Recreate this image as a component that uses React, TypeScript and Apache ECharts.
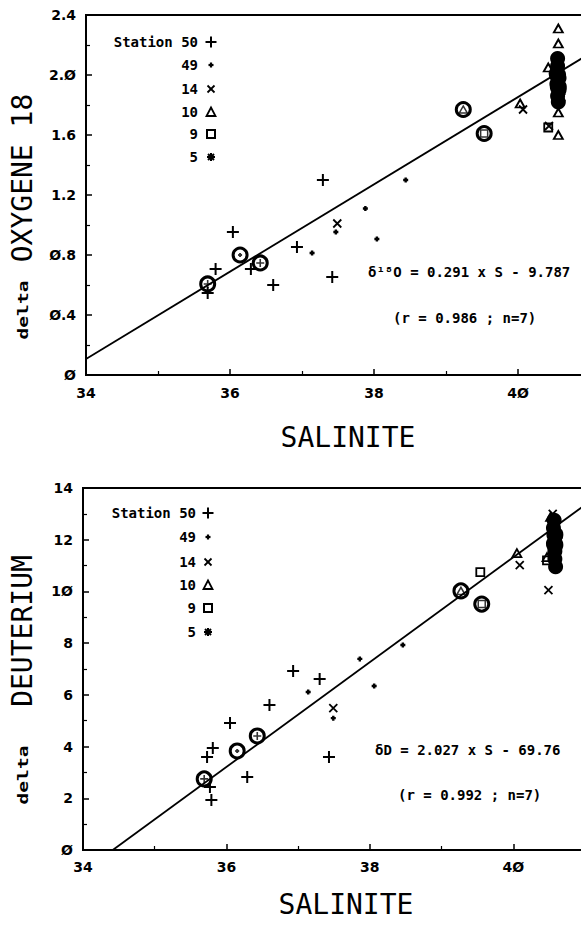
import React, { useEffect, useRef } from 'react';
import * as echarts from 'echarts';

// ---------- shared ----------
const stationIds = ['50', '49', '14', '10', '9', '5'];
const stationLabels = ['Station 50', '49', '14', '10', '9', '5'];
const xTickLabels = ['34', '36', '38', '4Ø'];

// ---------- top panel : delta oxygene 18 ----------
const o18YTicks = ['Ø', 'Ø.4', 'Ø.8', '1.2', '1.6', '2.Ø', '2.4'];
const o18St50 = [[35.69, 0.547], [35.8, 0.707], [36.04, 0.953], [36.29, 0.707], [36.6, 0.6], [36.93, 0.853], [37.29, 1.3], [37.42, 0.653]];
const o18St49 = [[37.14, 0.813], [37.47, 0.953], [37.88, 1.11], [38.04, 0.907], [38.44, 1.3]];
const o18St14 = [[37.49, 1.01], [40.07, 1.77], [40.43, 1.66], [40.6, 1.85]];
const o18St10 = [[40.03, 1.81], [40.42, 2.05], [40.56, 2.21], [40.56, 2.31], [40.56, 1.75], [40.56, 1.6]];
const o18St9 = [[40.42, 1.65]];
const o18St5 = [[40.55, 2.11], [40.55, 2.06], [40.53, 2.01], [40.57, 1.98], [40.54, 1.94], [40.57, 1.9], [40.55, 1.86], [40.56, 1.82]];
const o18MeanSal = [35.69, 36.14, 36.42, 39.24, 39.53, 40.55, 40.56];
const o18MeanVal = [0.607, 0.8, 0.747, 1.77, 1.61, 2.0, 1.92];
const o18MeanSt = ['50', '49', '50', '10', '9', '5', '5'];
const o18Slope = 0.291;
const o18Intercept = -9.787;
const o18Eq = 'δ¹⁸O = 0.291 x S - 9.787';
const o18R = '(r = 0.986 ; n=7)';

// ---------- bottom panel : delta deuterium ----------
const dYTicks = ['Ø', '2', '4', '6', '8', '1Ø', '12', '14'];
const dSt50 = [[35.73, 3.6], [35.81, 3.94], [35.79, 1.93], [35.77, 2.44], [36.05, 4.91], [36.29, 2.82], [36.6, 5.61], [36.93, 6.92], [37.3, 6.61], [37.43, 3.6]];
const dSt49 = [[37.14, 6.11], [37.49, 5.1], [38.06, 6.34], [37.86, 7.39], [38.46, 7.93]];
const dSt14 = [[37.49, 5.49], [40.09, 11.02], [40.49, 10.05], [40.55, 13.0]];
const dSt10 = [[40.05, 11.48], [40.47, 11.33], [40.52, 12.88]];
const dSt9 = [[39.54, 10.75], [40.47, 11.2]];
const dSt5 = [[40.57, 12.75], [40.56, 12.45], [40.59, 12.15], [40.56, 11.85], [40.58, 11.55], [40.58, 11.25], [40.59, 10.95]];
const dMeanSal = [35.69, 36.15, 36.43, 39.27, 39.56, 40.58, 40.58];
const dMeanVal = [2.75, 3.83, 4.41, 10.02, 9.51, 12.2, 11.8];
const dMeanSt = ['50', '49', '50', '10', '9', '5', '5'];
const dSlope = 2.027;
const dIntercept = -69.76;
const dEq = 'δD = 2.027 x S - 69.76';
const dR = '(r = 0.992 ; n=7)';

const PLUS = 'path://M0,5L10,5M5,0L5,10';
const CROSS = 'path://M0,0L10,10M10,0L0,10';
const TRI = 'path://M5,0L10,9L0,9Z';
const SQR = 'path://M0,0L10,0L10,10L0,10Z';

const symStyle: Record<string, any> = {
  '50': { symbol: PLUS, size: 12, width: 2, fill: false },
  '49': { symbol: PLUS, size: 5, width: 2.4, fill: false },
  '14': { symbol: CROSS, size: 8, width: 1.8, fill: false },
  '10': { symbol: TRI, size: [9, 8], width: 1.8, fill: false },
  '9': { symbol: SQR, size: 8, width: 1.8, fill: false },
  '5': { symbol: 'circle', size: 15, width: 0, fill: true },
};
const innerStyle: Record<string, any> = {
  '50': { symbol: PLUS, size: 8, width: 1.6, fill: false },
  '49': { symbol: PLUS, size: 4, width: 2, fill: false },
  '14': { symbol: CROSS, size: 6, width: 1.5, fill: false },
  '10': { symbol: TRI, size: [8, 7], width: 1.5, fill: false },
  '9': { symbol: SQR, size: 7, width: 1.5, fill: false },
  '5': { symbol: 'circle', size: 10, width: 0, fill: true },
};

const LABEL_FONT = { color: '#000', fontFamily: 'DejaVu Sans', fontWeight: 'bold' as const, fontSize: 14 };

function panelAxes(gi: number, yMax: number, yInt: number, yLabels: string[], lblMargin: number) {
  const xAxis = {
    type: 'value', gridIndex: gi, min: 34, max: 41, interval: 2,
    axisLine: { show: true, onZero: false, lineStyle: { color: '#000', width: 2 } },
    axisTick: { show: true, inside: true, length: 6, lineStyle: { color: '#000', width: 1.5 } },
    minorTick: { show: true, splitNumber: 2, length: 4, lineStyle: { color: '#000', width: 1.2 } },
    splitLine: { show: false },
    minorSplitLine: { show: false },
    axisLabel: {
      ...LABEL_FONT, margin: lblMargin,
      formatter: (v: number) => {
        const i = (v - 34) / 2;
        return Number.isInteger(i) && xTickLabels[i] ? xTickLabels[i] : '';
      },
    },
  };
  const yAxis = {
    type: 'value', gridIndex: gi, min: 0, max: yMax, interval: yInt,
    axisLine: { show: true, onZero: false, lineStyle: { color: '#000', width: 2 } },
    axisTick: { show: true, inside: true, length: 6, lineStyle: { color: '#000', width: 1.5 } },
    minorTick: { show: true, splitNumber: 2, length: 4, lineStyle: { color: '#000', width: 1.2 } },
    splitLine: { show: false },
    minorSplitLine: { show: false },
    axisLabel: {
      ...LABEL_FONT, margin: 10,
      formatter: (v: number) => yLabels[Math.round(v / yInt)] ?? '',
    },
  };
  return { xAxis, yAxis };
}

function panelSeries(gi: number, stations: number[][][], meanSal: number[], meanVal: number[], meanSt: string[], slope: number, intercept: number) {
  const series: any[] = [];
  const x0 = Math.max(34, -intercept / slope);
  series.push({
    type: 'line', xAxisIndex: gi, yAxisIndex: gi, silent: true, symbol: 'none', z: 2,
    data: [[x0, slope * x0 + intercept], [41, slope * 41 + intercept]],
    lineStyle: { color: '#000', width: 1.8 },
  });
  stations.forEach((pts, k) => {
    const s = symStyle[stationIds[k]];
    series.push({
      type: 'scatter', xAxisIndex: gi, yAxisIndex: gi, silent: true, z: 3,
      name: stationLabels[k], data: pts, symbol: s.symbol, symbolSize: s.size,
      itemStyle: { color: s.fill ? '#000' : 'rgba(0,0,0,0)', borderColor: '#000', borderWidth: s.width, opacity: 1 },
    });
  });
  series.push({
    type: 'scatter', xAxisIndex: gi, yAxisIndex: gi, silent: true, z: 4,
    symbol: 'circle', symbolSize: 14,
    data: meanSal.map((x, i) => ({
      value: [x, meanVal[i]],
      itemStyle: { color: meanSt[i] === '5' ? '#000' : 'rgba(0,0,0,0)' },
    })),
    itemStyle: { borderColor: '#000', borderWidth: 3, opacity: 1 },
  });
  series.push({
    type: 'scatter', xAxisIndex: gi, yAxisIndex: gi, silent: true, z: 5,
    data: meanSal.map((x, i) => {
      const s = innerStyle[meanSt[i]];
      return {
        value: [x, meanVal[i]], symbol: s.symbol, symbolSize: s.size,
        itemStyle: { color: s.fill ? '#000' : 'rgba(0,0,0,0)', borderColor: '#000', borderWidth: s.width },
      };
    }),
  });
  return series;
}

function legendSymbol(st: string, cx: number, cy: number): any[] {
  const ln = (x1: number, y1: number, x2: number, y2: number, w: number) => ({
    type: 'line', shape: { x1, y1, x2, y2 }, style: { stroke: '#000', lineWidth: w }, silent: true,
  });
  switch (st) {
    case '50': return [ln(cx - 5.5, cy, cx + 5.5, cy, 2), ln(cx, cy - 5.5, cx, cy + 5.5, 2)];
    case '49': return [ln(cx - 2.5, cy, cx + 2.5, cy, 2.2), ln(cx, cy - 2.5, cx, cy + 2.5, 2.2)];
    case '14': return [ln(cx - 3.5, cy - 3.5, cx + 3.5, cy + 3.5, 1.8), ln(cx - 3.5, cy + 3.5, cx + 3.5, cy - 3.5, 1.8)];
    case '10': return [{ type: 'polygon', shape: { points: [[cx, cy - 4.5], [cx + 4.5, cy + 4], [cx - 4.5, cy + 4]] }, style: { fill: 'none', stroke: '#000', lineWidth: 1.8 }, silent: true }];
    case '9': return [{ type: 'rect', shape: { x: cx - 4, y: cy - 4, width: 8, height: 8 }, style: { fill: 'none', stroke: '#000', lineWidth: 2 }, silent: true }];
    default: return [ln(cx - 4, cy, cx + 4, cy, 2), ln(cx, cy - 4, cx, cy + 4, 2), ln(cx - 3, cy - 3, cx + 3, cy + 3, 2), ln(cx - 3, cy + 3, cx + 3, cy - 3, 2)];
  }
}

function txt(text: string, x: number, y: number, opts: any = {}) {
  return {
    type: 'text', x, y, silent: true,
    rotation: opts.rotation || 0, scaleX: opts.scaleX || 1, scaleY: 1,
    style: {
      text, fill: '#000',
      fontFamily: opts.family || 'DejaVu Sans Mono',
      fontSize: opts.size || 14,
      fontWeight: opts.weight || 'bold',
      align: opts.align || 'left', textAlign: opts.align || 'left',
      verticalAlign: 'middle', textVerticalAlign: 'middle',
    },
  };
}

export default function App() {
  const ref = useRef<HTMLDivElement>(null);
  useEffect(() => {
    if (!ref.current) return;
    const chart = echarts.init(ref.current, undefined, { renderer: 'svg' });
    const top = panelAxes(0, 2.4, 0.4, o18YTicks, 11);
    const bot = panelAxes(1, 14, 2, dYTicks, 10);

    const graphic: any[] = [];
    const legTopY = [42, 65, 89, 112, 134, 157];
    const legBotY = [513, 537, 562, 585, 608, 632];
    stationIds.forEach((st, i) => {
      graphic.push(txt(stationLabels[i], 198, legTopY[i], { align: 'right' }));
      graphic.push(...legendSymbol(st, 211, legTopY[i]));
      graphic.push(txt(stationLabels[i], 196, legBotY[i], { align: 'right' }));
      graphic.push(...legendSymbol(st, 208, legBotY[i]));
    });
    graphic.push(txt(o18Eq, 368, 272));
    graphic.push(txt(o18R, 393, 318));
    graphic.push(txt(dEq, 375, 750));
    graphic.push(txt(dR, 398, 795));
    // axis titles
    graphic.push(txt('OXYGENE 18', 22, 178, { rotation: Math.PI / 2, size: 28, weight: 'normal', align: 'center' }));
    graphic.push(txt('delta', 23, 310, { rotation: Math.PI / 2, size: 14, align: 'center', scaleX: 1.4 }));
    graphic.push(txt('DEUTERIUM', 22, 631, { rotation: Math.PI / 2, size: 28, weight: 'normal', align: 'center' }));
    graphic.push(txt('delta', 23, 775, { rotation: Math.PI / 2, size: 14, align: 'center', scaleX: 1.4 }));
    graphic.push(txt('SALINITE', 348, 437, { size: 28, weight: 'normal', align: 'center' }));
    graphic.push(txt('SALINITE', 346, 904, { size: 28, weight: 'normal', align: 'center' }));

    chart.setOption({
      animation: false,
      backgroundColor: '#fff',
      grid: [
        { left: 86, top: 15, width: 504, height: 360, outerBoundsMode: 'none', containLabel: false, show: true, borderColor: '#000', borderWidth: 2, backgroundColor: 'transparent' },
        { left: 83, top: 488, width: 502, height: 362, outerBoundsMode: 'none', containLabel: false, show: true, borderColor: '#000', borderWidth: 2, backgroundColor: 'transparent' },
      ],
      xAxis: [top.xAxis, bot.xAxis],
      yAxis: [top.yAxis, bot.yAxis],
      series: [
        ...panelSeries(0, [o18St50, o18St49, o18St14, o18St10, o18St9, o18St5], o18MeanSal, o18MeanVal, o18MeanSt, o18Slope, o18Intercept),
        ...panelSeries(1, [dSt50, dSt49, dSt14, dSt10, dSt9, dSt5], dMeanSal, dMeanVal, dMeanSt, dSlope, dIntercept),
      ],
      graphic,
    });
    return () => chart.dispose();
  }, []);
  return <div ref={ref} style={{ position: 'absolute', left: 0, top: 0, width: 581, height: 926 }} />;
}
